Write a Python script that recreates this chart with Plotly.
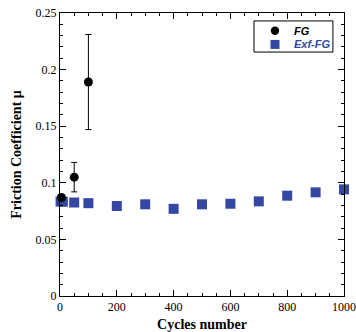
import plotly.graph_objects as go

fg_x = [5, 50, 100]
fg_y = [0.087, 0.105, 0.189]
fg_err = [0.0, 0.013, 0.042]

exf_x = [2, 10, 50, 100, 200, 300, 400, 500, 600, 700, 800, 900, 1000]
exf_y = [0.0835, 0.0833, 0.0826, 0.082, 0.0795, 0.081, 0.077, 0.081, 0.0815, 0.0836, 0.0886, 0.0916, 0.0942]

legend_names = ["FG", "Exf-FG"]

blue = "#3447a2"
fig = go.Figure()
fig.add_trace(go.Scatter(
    x=exf_x, y=exf_y, mode="markers", name=legend_names[1],
    marker=dict(symbol="square", size=10, color=blue),
    cliponaxis=False, showlegend=False,
))
fig.add_trace(go.Scatter(
    x=fg_x, y=fg_y, mode="markers", name=legend_names[0],
    marker=dict(symbol="circle", size=9, color="black"),
    error_y=dict(type="data", array=fg_err, color="black", thickness=1, width=3),
    cliponaxis=False, showlegend=False,
))

axis_common = dict(
    showline=True, linecolor="black", linewidth=1, mirror="ticks",
    ticks="inside", tickcolor="black", ticklen=6,
    showgrid=False, zeroline=False, automargin=False,
    tickfont=dict(family="Liberation Serif", size=12, color="black"),
)
fig.update_xaxes(range=[0, 1000], dtick=200, tick0=0,
                 minor=dict(dtick=50, ticks="inside", ticklen=3, tickcolor="black", showgrid=False),
                 title=dict(text="<b>Cycles number</b>", font=dict(family="Liberation Serif", size=14, color="black"), standoff=6),
                 **axis_common)
fig.update_yaxes(range=[0, 0.25], dtick=0.05, tick0=0,
                 minor=dict(dtick=0.01, ticks="inside", ticklen=3, tickcolor="black", showgrid=False),
                 title=dict(text="<b>Friction Coefficient μ</b>", font=dict(family="Liberation Serif", size=14, color="black"), standoff=10),
                 **axis_common)

# Compact legend box (drawn in paper coordinates)
px = 1 / 284.0
py = 1 / 283.0
sym_x = 0.757
rows = [(0.9375, "circle", "black"), (0.889, "rect", blue)]
shapes = [dict(type="rect", xref="paper", yref="paper", x0=0.683, x1=0.961, y0=0.862, y1=0.972,
               line=dict(color="black", width=1), fillcolor="white", layer="above")]
annotations = []
for (yc, kind, col), name in zip(rows, legend_names):
    r = 4.2 if kind == "circle" else 4.5
    shapes.append(dict(type=kind, xref="paper", yref="paper",
                       x0=sym_x - r * px, x1=sym_x + r * px, y0=yc - r * py, y1=yc + r * py,
                       line=dict(color=col, width=0), fillcolor=col, layer="above"))
    annotations.append(dict(xref="paper", yref="paper", x=0.816, y=yc, xanchor="left", yanchor="middle",
                            text="<b><i>%s</i></b>" % name, showarrow=False,
                            font=dict(family="Liberation Sans", size=11, color=col)))

fig.update_layout(
    width=356, height=332,
    margin=dict(l=60, r=12, t=13, b=36),
    plot_bgcolor="white", paper_bgcolor="white",
    shapes=shapes, annotations=annotations,
    showlegend=False,
)
fig.write_html("out.html")
